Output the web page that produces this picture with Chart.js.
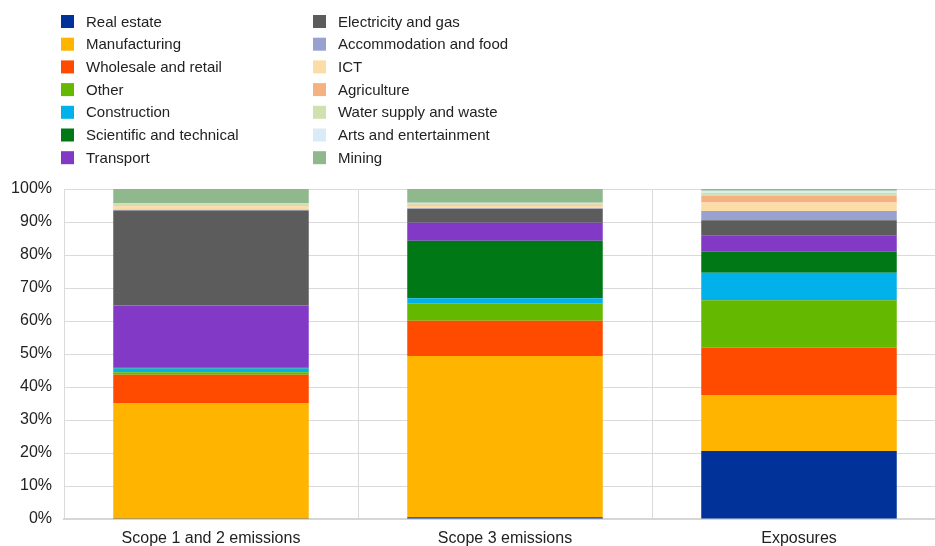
<!DOCTYPE html>
<html>
<head>
<meta charset="utf-8">
<script src="https://cdn.jsdelivr.net/npm/chart.js@4/dist/chart.umd.min.js"></script>
<style>
  html, body { margin: 0; padding: 0; background: #fff; overflow: hidden; }
  #wrap { width: 935px; height: 546px; overflow: hidden; }
</style>
</head>
<body>
<div id="wrap"><canvas id="sectorChart" width="950" height="546"></canvas></div>
<script>
// Sector shares of emissions and exposures (%)
const categories = ['Scope 1 and 2 emissions', 'Scope 3 emissions', 'Exposures'];
const yTicks = [0, 10, 20, 30, 40, 50, 60, 70, 80, 90, 100];

const realEstate          = [0.1, 0.5, 20.6];
const manufacturing       = [34.9, 48.9, 17.0];
const wholesaleRetail     = [8.7, 10.7, 14.4];
const other               = [0.8, 5.3, 14.3];
const construction        = [1.1, 1.5, 8.3];
const scientificTechnical = [0.2, 17.4, 6.4];
const transport           = [18.9, 5.5, 5.0];
const electricityGas      = [28.8, 4.2, 4.5];
const accommodationFood   = [0.2, 0.2, 2.8];
const ict                 = [1.0, 0.7, 2.6];
const agriculture         = [0.3, 0.3, 2.0];
const waterWaste          = [0.5, 0.5, 1.0];
const artsEntertainment   = [0.1, 0.1, 0.6];
const mining              = [4.4, 4.2, 0.5];

const series = [
    ['Real estate', realEstate, '#003299'],
    ['Manufacturing', manufacturing, '#FFB400'],
    ['Wholesale and retail', wholesaleRetail, '#FF4B00'],
    ['Other', other, '#65B800'],
    ['Construction', construction, '#00B1EA'],
    ['Scientific and technical', scientificTechnical, '#007816'],
    ['Transport', transport, '#8139C6'],
    ['Electricity and gas', electricityGas, '#5C5C5C'],
    ['Accommodation and food', accommodationFood, '#98A1D0'],
    ['ICT', ict, '#FDDDA7'],
    ['Agriculture', agriculture, '#F6B183'],
    ['Water supply and waste', waterWaste, '#D0E1AE'],
    ['Arts and entertainment', artsEntertainment, '#D8EBF6'],
    ['Mining', mining, '#8FB88D']
];

const FONT = '"Liberation Sans", Arial, sans-serif';

// Two-column legend drawn above the plot
const columnLegend = {
    id: 'columnLegend',
    afterDraw(chart) {
        const ctx = chart.ctx;
        ctx.save();
        ctx.font = '15px ' + FONT;
        ctx.textBaseline = 'middle';
        chart.data.datasets.forEach(function(ds, i) {
            const col = Math.floor(i / 7);
            const row = i % 7;
            const x = col === 0 ? 61 : 313;
            const y = 21.5 + row * 22.7;
            ctx.fillStyle = ds.backgroundColor;
            ctx.fillRect(x, y - 6.5, 13, 13);
            ctx.fillStyle = '#222';
            ctx.fillText(ds.label, x + 25, y + 1);
        });
        ctx.restore();
    }
};

const ctx = document.getElementById('sectorChart').getContext('2d');
const sectorChart = new Chart(ctx, {
    type: 'bar',
    data: {
        labels: categories,
        datasets: series.map(function(s) {
            return {
                label: s[0],
                data: s[1],
                backgroundColor: s[2],
                borderWidth: 0,
                categoryPercentage: 1,
                barPercentage: 0.665
            };
        })
    },
    options: {
        responsive: false,
        animation: false,
        layout: { padding: { top: 189, right: 4, left: 0, bottom: 0 } },
        plugins: {
            legend: { display: false },
            tooltip: { enabled: false }
        },
        scales: {
            x: {
                stacked: true,
                grid: { color: '#dadada', offset: true, drawTicks: false },
                border: { color: '#d6d6d6', width: 2 },
                ticks: { color: '#222', font: { family: FONT, size: 16 }, padding: 10 },
                afterFit: function(scale) { scale.height = 27; }
            },
            y: {
                stacked: true,
                min: 0,
                max: 100,
                afterBuildTicks: function(scale) {
                    scale.ticks = yTicks.map(function(v) { return { value: v }; });
                },
                grid: { color: '#dadada', drawTicks: false },
                border: { display: false },
                ticks: {
                    color: '#222',
                    font: { family: FONT, size: 16 },
                    padding: 12,
                    callback: function(v) { return v + '%'; }
                },
                afterFit: function(scale) { scale.width = 64; }
            }
        }
    },
    plugins: [columnLegend]
});
</script>
</body>
</html>
